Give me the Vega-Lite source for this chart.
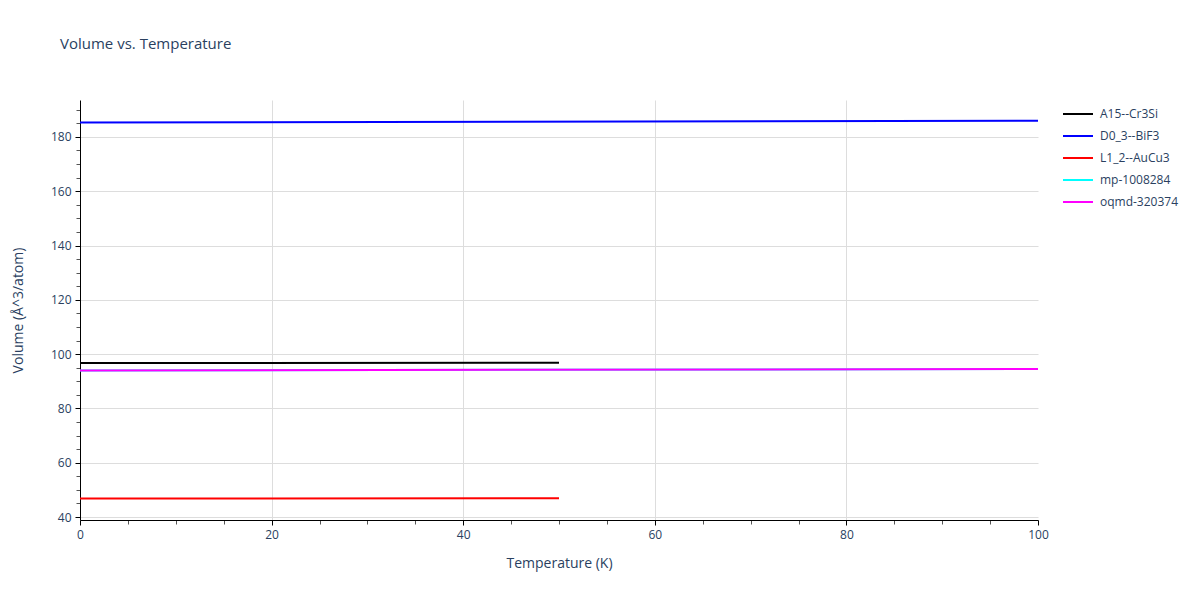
{
  "$schema": "https://vega.github.io/schema/vega-lite/v6.json",
  "autosize": "none",
  "width": 958,
  "height": 420,
  "padding": {"left": 80, "top": 100, "right": 162, "bottom": 80},
  "background": "white",
  "title": {
    "text": "Volume vs. Temperature",
    "anchor": "start",
    "frame": "group",
    "dx": -20,
    "offset": 46,
    "font": "Open Sans",
    "fontSize": 15,
    "fontWeight": "normal",
    "color": "#2a3f5f"
  },
  "data": {
    "values": [
      {"series": "A15--Cr3Si", "T": 0, "V": 96.7},
      {"series": "A15--Cr3Si", "T": 50, "V": 96.8},
      {"series": "D0_3--BiF3", "T": 0, "V": 185.3},
      {"series": "D0_3--BiF3", "T": 100, "V": 185.95},
      {"series": "L1_2--AuCu3", "T": 0, "V": 46.8},
      {"series": "L1_2--AuCu3", "T": 50, "V": 46.9},
      {"series": "mp-1008284", "T": 0, "V": 94.0},
      {"series": "mp-1008284", "T": 100, "V": 94.5},
      {"series": "oqmd-320374", "T": 0, "V": 94.0},
      {"series": "oqmd-320374", "T": 100, "V": 94.5}
    ]
  },
  "mark": {"type": "line", "strokeWidth": 2, "clip": true},
  "encoding": {
    "x": {
      "field": "T",
      "type": "quantitative",
      "scale": {"domain": [0, 100], "nice": false, "zero": false},
      "axis": {
        "title": "Temperature (K)",
        "values": [0,5,10,15,20,25,30,35,40,45,50,55,60,65,70,75,80,85,90,95,100],
        "labelExpr": "datum.value % 20 === 0 ? datum.label : ''",
        "labelFlush": false,
        "grid": true,
        "gridColor": "#dddddd",
        "gridOpacity": {"condition": {"test": "datum.value % 20 === 0 && datum.value > 0 && datum.value < 100", "value": 1}, "value": 0},
        "tickColor": {"condition": {"test": "datum.value % 20 === 0", "value": "#000000"}, "value": "#555555"},
        "tickSize": {"condition": {"test": "datum.value % 20 === 0", "value": 5}, "value": 4},
        "domainColor": "#000000",
        "domainWidth": 1,
        "labelFont": "Open Sans",
        "labelFontSize": 12,
        "labelColor": "#2a3f5f",
        "labelPadding": 4,
        "titleFont": "Open Sans",
        "titleFontSize": 14,
        "titleFontWeight": "normal",
        "titleColor": "#2a3f5f",
        "titlePadding": 16
      }
    },
    "y": {
      "field": "V",
      "type": "quantitative",
      "scale": {"domain": [38.9, 193.6], "nice": false, "zero": false},
      "axis": {
        "title": "Volume (Å^3/atom)",
        "values": [40,45,50,55,60,65,70,75,80,85,90,95,100,105,110,115,120,125,130,135,140,145,150,155,160,165,170,175,180,185,190],
        "labelExpr": "datum.value % 20 === 0 ? datum.label : ''",
        "labelFlush": false,
        "grid": true,
        "gridColor": "#dddddd",
        "gridOpacity": {"condition": {"test": "datum.value % 20 === 0", "value": 1}, "value": 0},
        "tickColor": {"condition": {"test": "datum.value % 20 === 0", "value": "#000000"}, "value": "#555555"},
        "tickSize": {"condition": {"test": "datum.value % 20 === 0", "value": 5}, "value": 4},
        "domainColor": "#000000",
        "domainWidth": 1,
        "labelFont": "Open Sans",
        "labelFontSize": 12,
        "labelColor": "#2a3f5f",
        "labelPadding": 4,
        "titleFont": "Open Sans",
        "titleFontSize": 14,
        "titleFontWeight": "normal",
        "titleColor": "#2a3f5f",
        "titlePadding": 25
      }
    },
    "color": {
      "field": "series",
      "type": "nominal",
      "scale": {
        "domain": ["A15--Cr3Si", "D0_3--BiF3", "L1_2--AuCu3", "mp-1008284", "oqmd-320374"],
        "range": ["#000000", "#0000ff", "#ff0000", "#00ffff", "#ff00ff"]
      },
      "legend": {
        "title": null,
        "orient": "none",
        "legendX": 982,
        "legendY": -2,
        "symbolType": "stroke",
        "symbolSize": 900,
        "symbolStrokeWidth": 2,
        "labelFont": "Open Sans",
        "labelFontSize": 12,
        "labelColor": "#2a3f5f",
        "labelOffset": 6,
        "rowPadding": -3
      }
    }
  },
  "config": {
    "view": {"stroke": null}
  }
}
